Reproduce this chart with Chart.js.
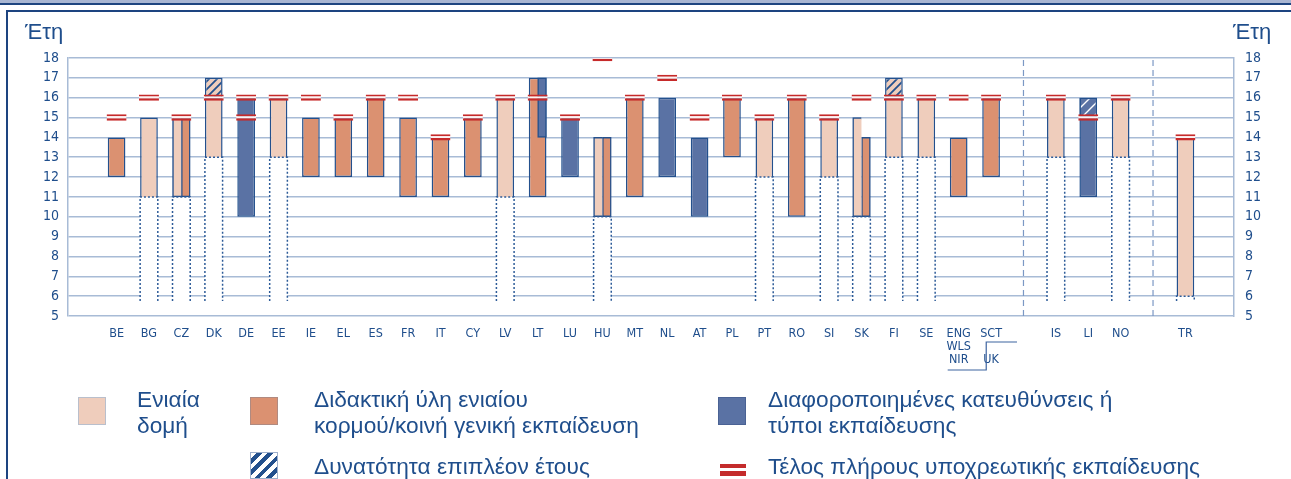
<!DOCTYPE html>
<html>
<head>
<meta charset="utf-8">
<script src="https://cdn.jsdelivr.net/npm/chart.js@4.4.1/dist/chart.umd.min.js"></script>
<style>
    body { margin: 0; background: #fff; }
    #wrap { position: relative; width: 1291px; height: 479px; overflow: hidden; font-family: 'Liberation Sans', Arial, sans-serif; color: #1f4e8c; }
    #myChart { position: absolute; left: 0; top: 0; }
    .line { position: absolute; }
    .axisTitle { position: absolute; top: 19px; font-size: 22px; line-height: 26px; }
    .leg { position: absolute; font-size: 22.7px; line-height: 26px; white-space: nowrap; }
    .sw { position: absolute; width: 28px; height: 28px; box-sizing: border-box; }
</style>
</head>
<body>
<div id="wrap">
    <div class="line" style="left:0;top:0;width:1291px;height:3px;background:#a9b6d2"></div>
    <div class="line" style="left:0;top:3px;width:1291px;height:2px;background:#1f4580"></div>
    <div class="line" style="left:6px;top:10px;width:1285px;height:2px;background:#1d4480"></div>
    <div class="line" style="left:6px;top:10px;width:2px;height:469px;background:#1d4480"></div>

    <canvas id="myChart" width="1291" height="479"></canvas>

    <div class="axisTitle" style="left:25px">Έτη</div>
    <div class="axisTitle" style="left:1233px">Έτη</div>

    <div class="sw" style="left:78px;top:397px;background:#efcdbc;border:1px solid #b9bfcc"></div>
    <div class="leg" style="left:137px;top:386px">Ενιαία<br>δομή</div>

    <div class="sw" style="left:250px;top:397px;background:#db9171;border:1px solid #b08a80"></div>
    <div class="leg" style="left:314px;top:386px">Διδακτική ύλη ενιαίου<br>κορμού/κοινή γενική εκπαίδευση</div>

    <div class="sw" style="left:718px;top:397px;background:#5a72a4;border:1px solid #4a6294"></div>
    <div class="leg" style="left:768px;top:386px">Διαφοροποιημένες κατευθύνσεις ή<br>τύποι εκπαίδευσης</div>

    <div class="sw" style="left:250px;top:452px;height:27px;border:1px solid #9fb0cc;background:repeating-linear-gradient(135deg,#ffffff 0px,#ffffff 4px,#23508d 4px,#23508d 8px)"></div>
    <div class="leg" style="left:314px;top:453px">Δυνατότητα επιπλέον έτους</div>

    <div class="line" style="left:720px;top:464px;width:26px;height:4px;background:#c42b2b"></div>
    <div class="line" style="left:720px;top:471px;width:26px;height:5px;background:#c42b2b"></div>
    <div class="leg" style="left:768px;top:453px">Τέλος πλήρους υποχρεωτικής εκπαίδευσης</div>
</div>
<script>
const N = null;

// categories (blank slots separate EU / EFTA / candidate countries)
const countries = ['', 'BE', 'BG', 'CZ', 'DK', 'DE', 'EE', 'IE', 'EL', 'ES', 'FR', 'IT', 'CY', 'LV', 'LT', 'LU', 'HU',
    'MT', 'NL', 'AT', 'PL', 'PT', 'RO', 'SI', 'SK', 'FI', 'SE', ['ENG', 'WLS', 'NIR'], ['SCT', '', 'UK'], '',
    'IS', 'LI', 'NO', '', 'TR', ''];

// [from age, to age]
const singleStructure = [N, N, [11, 15], N, [13, 16], N, [13, 16], N, N, N, N, N, N, [11, 16], N, N, N, N, N, N, N,
    [12, 15], N, [12, 15], N, [13, 16], [13, 16], N, N, N, [13, 16], N, [13, 16], N, [6, 14], N];
const singleStructureHalf = [N, N, N, [11, 15], N, N, N, N, N, N, N, N, N, N, N, N, [10, 14], N, N, N, N,
    N, N, N, [10, 15], N, N, N, N, N, N, N, N, N, N, N];
const commonCore = [N, [12, 14], N, N, N, N, N, [12, 15], [12, 15], [12, 16], [11, 15], [11, 14], [12, 15], N, [11, 17], N, N,
    [11, 16], N, N, [13, 16], N, [10, 16], N, N, N, N, [11, 14], [12, 16], N, N, N, N, N, N, N];
const commonCoreHalf = [N, N, N, [11, 15], N, N, N, N, N, N, N, N, N, N, N, N, [10, 14], N, N, N, N,
    N, N, N, [10, 14], N, N, N, N, N, N, N, N, N, N, N];
const differentiated = [N, N, N, N, N, [10, 16], N, N, N, N, N, N, N, N, N, [12, 15], N, N, [12, 16], [10, 14], N,
    N, N, N, N, N, N, N, N, N, N, [11, 16], N, N, N, N];
const differentiatedHalf = [N, N, N, N, N, N, N, N, N, N, N, N, N, N, [14, 17], N, N, N, N, N, N,
    N, N, N, N, N, N, N, N, N, N, N, N, N, N, N];
const extraYear = [N, N, N, N, [16, 17], N, N, N, N, N, N, N, N, N, N, N, N, N, N, N, N,
    N, N, N, N, [16, 17], N, N, N, N, N, [15, 16], N, N, N, N];
// end of full-time compulsory education (age)
const compulsoryEnd = [N, 15, 16, 15, 16, 16, 16, 16, 15, 16, 16, 14, 15, 16, 16, 15, 18, 16, 17, 15, 16,
    15, 16, 15, 16, 16, 16, 16, 16, N, 16, 15, 16, N, 14, N];
const compulsoryEnd2 = [N, N, N, N, N, 15, N, N, N, N, N, N, N, N, N, N, N, N, N, N, N,
    N, N, N, N, N, N, N, N, N, N, N, N, N, N, N];
// age where the dotted (primary) column ends
const primaryTop = [N, N, 11, 11, 13, N, 13, N, N, N, N, N, N, 11, N, N, 10, N, N, N, N,
    12, N, 12, 10, 13, 13, N, N, N, 13, N, 13, N, 6, N];
const separators = [29, 33];
const yTicksMin = 5, yTicksMax = 18;

const lightFill = '#efcdbc';
const coreFill = '#db9171';
const diffFill = '#5a72a4';
const edge = '#23508d';
const red = '#c62a2a';
const gridColor = '#a8bbd6';
const txt = '#1f4e8c';
const barPct = 0.546;
const half = barPct / 2;
const quarter = barPct / 4;
const floor = 5.75;
const narrow = "'Liberation Sans Narrow', 'DejaVu Sans Condensed', 'Liberation Sans', sans-serif";

function hatch(bg, fg, size, width) {
    let c = document.createElement('canvas');
    c.width = size; c.height = size;
    let g = c.getContext('2d');
    g.fillStyle = bg;
    g.fillRect(0, 0, size, size);
    g.strokeStyle = fg;
    g.lineWidth = width;
    g.beginPath();
    g.moveTo(-1, size + 1); g.lineTo(size + 1, -1);
    g.moveTo(-3, 3); g.lineTo(3, -3);
    g.moveTo(size - 3, size + 3); g.lineTo(size + 3, size - 3);
    g.stroke();
    return g.createPattern(c, 'repeat');
}
let hatchLight = hatch(lightFill, edge, 8, 1.8);
let hatchBlue = hatch(diffFill, '#ffffff', 11, 1.4);

function fullBar(data, fill, order, border) {
    return {
        type: 'bar', data: data, backgroundColor: fill, borderColor: edge,
        borderWidth: border || 1.5, borderSkipped: false, grouped: false,
        categoryPercentage: barPct, barPercentage: 1, order: order
    };
}
// half-width bars sit on the hidden linear axis, shifted left or right of the category centre
function halfBar(data, fill, order, side, border) {
    let pts = [];
    data.forEach((v, i) => { if (v !== null) pts.push({x: i + side * quarter, y: v}); });
    return {
        type: 'bar', data: pts, xAxisID: 'xl', backgroundColor: fill, borderColor: edge,
        borderWidth: border || 1.5, borderSkipped: false, grouped: false,
        barThickness: 8.85, order: order
    };
}

// dotted outline of the primary columns
let dotted = [];
primaryTop.forEach((v, i) => {
    if (v === null) return;
    dotted.push({x: i - half, y: floor}, {x: i - half, y: v}, {x: i + half, y: v}, {x: i + half, y: floor}, {x: i, y: null});
});
let sepPoints = [];
separators.forEach(i => {
    sepPoints.push({x: i, y: yTicksMin}, {x: i, y: yTicksMax}, {x: i, y: null});
});

const ukBracket = {
    id: 'ukBracket',
    afterDraw(chart) {
        let x = chart.scales.x, c = chart.ctx;
        let pEng = x.getPixelForTick(27), pSct = x.getPixelForTick(28);
        let step = pSct - pEng;
        let b = chart.chartArea.bottom;
        c.save();
        c.strokeStyle = '#3d64a0';
        c.lineWidth = 1.2;
        c.beginPath();
        c.moveTo(pEng - step * 0.34, b + 54);
        c.lineTo(pSct - step * 0.15, b + 54);
        c.lineTo(pSct - step * 0.15, b + 26);
        c.lineTo(pSct + step * 0.8, b + 26);
        c.stroke();
        c.restore();
    }
};

let light = fullBar(singleStructure, lightFill, 3, {top: 1.5, left: 1.5, right: 1.5, bottom: 0});
let lightHalf = halfBar(singleStructureHalf, lightFill, 3, -1, {top: 1.5, left: 1.5, right: 0, bottom: 1.5});
let coreHalf = halfBar(commonCoreHalf, coreFill, 3, 1);
let blueHalf = halfBar(differentiatedHalf, diffFill, 2, 1);
let core = fullBar(commonCore, coreFill, 3);
let diff = fullBar(differentiated, diffFill, 3);
let extra = fullBar(extraYear, (c) => c.dataIndex === 31 ? hatchBlue : hatchLight, 1);

function markers(values) {
    return {
        type: 'bar', data: values.map(v => v === null ? null : [v - 0.16, v + 0.16]),
        backgroundColor: '#fdf2f2', borderColor: red,
        borderWidth: {top: 2, bottom: 2.5, left: 0, right: 0}, borderSkipped: false, grouped: false,
        categoryPercentage: 0.617, barPercentage: 1, order: 0
    };
}

let whiteCols = {
    type: 'bar', data: primaryTop.map(v => v === null ? null : [floor, v]),
    backgroundColor: '#ffffff', borderWidth: 0, grouped: false,
    categoryPercentage: barPct, barPercentage: 1, order: 8
};

let dottedLines = {
    type: 'line', data: dotted, xAxisID: 'xl', borderColor: '#2d5b98', borderWidth: 1.5,
    borderDash: [2, 2], pointRadius: 0, spanGaps: false, fill: false, order: 1.5
};
let sepLines = {
    type: 'line', data: sepPoints, xAxisID: 'xl', borderColor: '#7b98c4', borderWidth: 1.2,
    borderDash: [6, 4], pointRadius: 0, spanGaps: false, fill: false, order: 7
};

let ctx = document.getElementById('myChart').getContext('2d');
let myChart = new Chart(ctx, {
    type: 'bar',
    data: {
        labels: countries,
        datasets: [markers(compulsoryEnd), markers(compulsoryEnd2), extra, dottedLines,
            lightHalf, blueHalf, coreHalf, light, core, diff, sepLines, whiteCols]
    },
    options: {
        responsive: false,
        animation: false,
        layout: { padding: { top: 58, left: 0, right: 0, bottom: 0 } },
        plugins: { legend: { display: false }, tooltip: { enabled: false } },
        scales: {
            x: {
                type: 'category', offset: true,
                grid: { display: false }, border: { display: false },
                ticks: { color: txt, font: { family: narrow, size: 12.5, lineHeight: 1.05 }, padding: 3, autoSkip: false, maxRotation: 0 },
                afterFit: (s) => { s.height = 163; }
            },
            xl: {
                type: 'linear', display: false, offset: false, bounds: 'data',
                min: -0.5, max: 35.5, grid: { offset: false }
            },
            y: {
                min: yTicksMin, max: yTicksMax, stacked: false,
                ticks: { stepSize: 1, color: txt, font: { family: narrow, size: 14 }, padding: 9 },
                grid: { color: gridColor, lineWidth: 1.5, drawTicks: false },
                border: { color: gridColor, width: 1.5 },
                afterFit: (s) => { s.width = 68; }
            },
            y2: {
                position: 'right', min: yTicksMin, max: yTicksMax,
                ticks: { stepSize: 1, color: txt, font: { family: narrow, size: 14 }, padding: 11 },
                grid: { display: false, drawTicks: false },
                border: { color: gridColor, width: 1.5 },
                afterFit: (s) => { s.width = 57; }
            }
        }
    },
    plugins: [ukBracket]
});
</script>
</body>
</html>
